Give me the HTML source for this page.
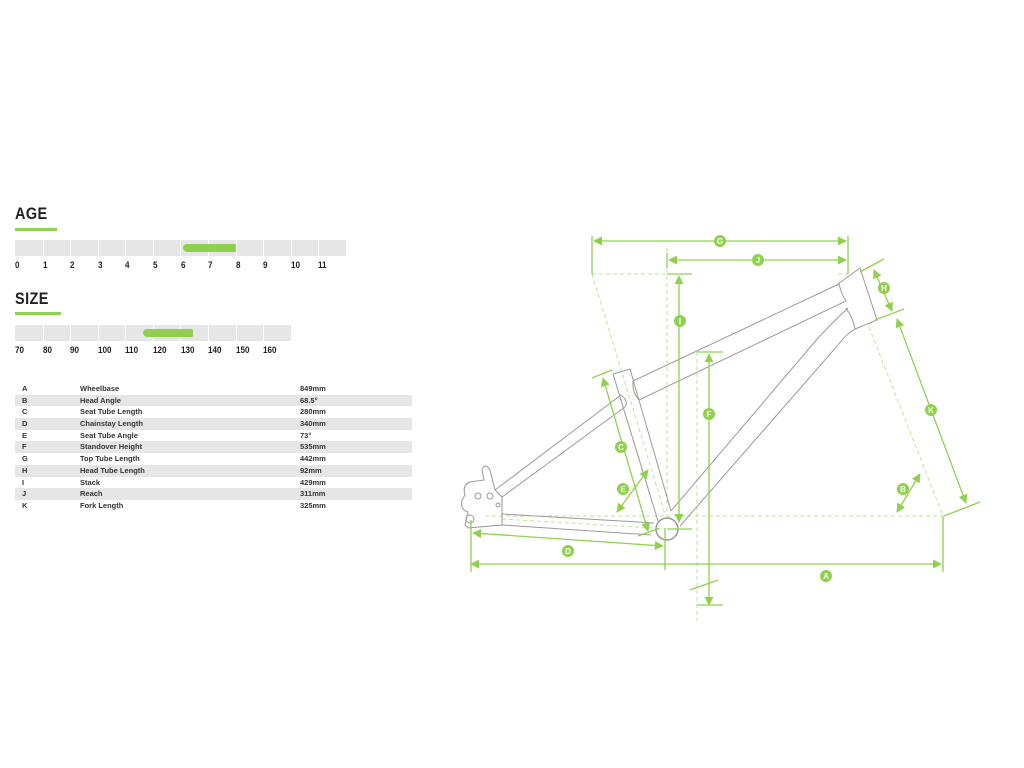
<!DOCTYPE html>
<html><head><meta charset="utf-8"><style>
body{margin:0;background:#fff;width:1024px;height:768px;overflow:hidden;position:relative;font-family:"Liberation Sans",sans-serif;color:#222}
.h{position:absolute;left:15px;font-size:17px;font-weight:bold;transform:scaleX(0.85);transform-origin:left;letter-spacing:0.5px}
.ul{position:absolute;left:15px;height:3px;background:#8fd14f}
.bar{position:absolute;left:15px;height:16px;background:#e6e6e6}
.bar i{position:absolute;top:0;width:1px;height:16px;background:#fff}
.lab{position:absolute;font-size:9px;font-weight:bold;transform:scaleX(0.9);transform-origin:left}
.tbl{position:absolute;left:15px;top:383px;width:397px}
.tbl div{height:11.7px;font-size:7.5px;font-weight:bold;position:relative;line-height:11.7px;color:#333}
.tbl div:nth-child(even){background:#e6e6e6}
.tbl span{position:absolute}
</style></head><body>
<div class="h" style="top:204px">AGE</div>
<div class="ul" style="top:228px;width:42px"></div>
<div class="bar" style="top:240px;width:331px">
<i style="left:27.6px"></i><i style="left:55px"></i><i style="left:83px"></i><i style="left:110px"></i><i style="left:138px"></i><i style="left:165px"></i><i style="left:193px"></i><i style="left:221px"></i><i style="left:248px"></i><i style="left:276px"></i><i style="left:303px"></i>
<div style="position:absolute;left:168px;top:4px;width:53px;height:8px;background:#8fd14f;border-radius:4px 2px 2px 5px"></div>
</div>
<div class="h" style="top:289px">SIZE</div>
<div class="ul" style="top:312px;width:46px"></div>
<div class="bar" style="top:325px;width:276px">
<i style="left:27.6px"></i><i style="left:55px"></i><i style="left:83px"></i><i style="left:110px"></i><i style="left:138px"></i><i style="left:165px"></i><i style="left:193px"></i><i style="left:221px"></i><i style="left:248px"></i>
<div style="position:absolute;left:128px;top:4px;width:50px;height:8px;background:#8fd14f;border-radius:4px 2px 2px 5px"></div>
</div>
<span class="lab" style="left:15px;top:260px">0</span><span class="lab" style="left:43px;top:260px">1</span><span class="lab" style="left:70px;top:260px">2</span><span class="lab" style="left:98px;top:260px">3</span><span class="lab" style="left:125px;top:260px">4</span><span class="lab" style="left:153px;top:260px">5</span><span class="lab" style="left:181px;top:260px">6</span><span class="lab" style="left:208px;top:260px">7</span><span class="lab" style="left:236px;top:260px">8</span><span class="lab" style="left:263px;top:260px">9</span><span class="lab" style="left:291px;top:260px">10</span><span class="lab" style="left:318px;top:260px">11</span>
<span class="lab" style="left:15px;top:345px">70</span><span class="lab" style="left:43px;top:345px">80</span><span class="lab" style="left:70px;top:345px">90</span><span class="lab" style="left:98px;top:345px">100</span><span class="lab" style="left:125px;top:345px">110</span><span class="lab" style="left:153px;top:345px">120</span><span class="lab" style="left:181px;top:345px">130</span><span class="lab" style="left:208px;top:345px">140</span><span class="lab" style="left:236px;top:345px">150</span><span class="lab" style="left:263px;top:345px">160</span>
<div class="tbl">
<div><span style="left:7px">A</span><span style="left:65px">Wheelbase</span><span style="left:285px">849mm</span></div>
<div><span style="left:7px">B</span><span style="left:65px">Head Angle</span><span style="left:285px">68.5°</span></div>
<div><span style="left:7px">C</span><span style="left:65px">Seat Tube Length</span><span style="left:285px">280mm</span></div>
<div><span style="left:7px">D</span><span style="left:65px">Chainstay Length</span><span style="left:285px">340mm</span></div>
<div><span style="left:7px">E</span><span style="left:65px">Seat Tube Angle</span><span style="left:285px">73°</span></div>
<div><span style="left:7px">F</span><span style="left:65px">Standover Height</span><span style="left:285px">535mm</span></div>
<div><span style="left:7px">G</span><span style="left:65px">Top Tube Length</span><span style="left:285px">442mm</span></div>
<div><span style="left:7px">H</span><span style="left:65px">Head Tube Length</span><span style="left:285px">92mm</span></div>
<div><span style="left:7px">I</span><span style="left:65px">Stack</span><span style="left:285px">429mm</span></div>
<div><span style="left:7px">J</span><span style="left:65px">Reach</span><span style="left:285px">311mm</span></div>
<div><span style="left:7px">K</span><span style="left:65px">Fork Length</span><span style="left:285px">325mm</span></div>
</div>
<svg width="1024" height="768" style="position:absolute;left:0;top:0">
<defs><marker id="a" viewBox="0 0 10 10" refX="9" refY="5" markerWidth="7" markerHeight="7" orient="auto-start-reverse"><path d="M0,0L10,5L0,10z" fill="#8fd14f"/></marker></defs>
<g stroke="#bfe39a" stroke-width="1" stroke-dasharray="4,3" fill="none">
<line x1="592" y1="274" x2="692" y2="274"/><line x1="838" y1="274" x2="848" y2="274"/>
<line x1="667" y1="248" x2="667" y2="524"/>
<line x1="485" y1="516" x2="943" y2="516"/>
<line x1="869" y1="327" x2="943" y2="516"/>
<line x1="592" y1="274" x2="665" y2="514"/>
<line x1="697" y1="352" x2="697" y2="621"/>
<line x1="502" y1="519" x2="654" y2="528"/>
</g>
<g stroke="#999" stroke-width="1" fill="none">
<path d="M838,284 L860,268 L877,320 L855,329 Q853,318 846,308"/>
<path d="M633,381 L839,284 Q842,296 846,301 L639,400 Q632,392 633,381"/>
<path d="M848,308 Q835,320 818,338 L671,511"/><path d="M855,329 Q845,335 838,345 L680,526"/>
<line x1="613" y1="374" x2="658" y2="521"/><line x1="630" y1="369" x2="671" y2="511"/><line x1="613" y1="374" x2="630" y2="369"/>
<path d="M621,395 L495,490"/><path d="M625,407 L502,497"/><path d="M621,395 Q629,401 625,407"/>
<line x1="502" y1="514" x2="654" y2="523"/><line x1="502" y1="525" x2="651" y2="535"/>
<path d="M495,490 L490,470 Q485,462 482,470 L484,480 L470,482 Q462,485 465,495 L462,500 Q460,510 468,512 L465,525 L468,528 L502,525 L502,497 Z"/>
<circle cx="470" cy="519" r="4"/><circle cx="478" cy="496" r="3"/><circle cx="490" cy="496" r="3"/><circle cx="498" cy="505" r="2"/>
</g>
<circle cx="667" cy="529" r="11" fill="#fff" stroke="#999" stroke-width="1.5"/>
<g stroke="#8fd14f" stroke-width="1.3" fill="none">
<line x1="592" y1="236" x2="592" y2="274"/><line x1="848" y1="236" x2="848" y2="274"/><line x1="667" y1="253" x2="667" y2="268"/>
<line x1="594" y1="241" x2="846" y2="241" marker-start="url(#a)" marker-end="url(#a)"/>
<line x1="669" y1="260" x2="846" y2="260" marker-start="url(#a)" marker-end="url(#a)"/>
<line x1="679" y1="276" x2="679" y2="522" marker-start="url(#a)" marker-end="url(#a)"/>
<line x1="667" y1="274" x2="692" y2="274"/><line x1="667" y1="529" x2="692" y2="529"/>
<line x1="709" y1="354" x2="709" y2="605" marker-start="url(#a)" marker-end="url(#a)"/>
<line x1="697" y1="352" x2="723" y2="352"/><line x1="697" y1="605" x2="723" y2="605"/>
<line x1="690" y1="590" x2="718" y2="580"/>
<line x1="471" y1="564" x2="941" y2="564" marker-start="url(#a)" marker-end="url(#a)"/>
<line x1="471" y1="520" x2="471" y2="572"/><line x1="943" y1="516" x2="943" y2="572"/>
<line x1="473" y1="533" x2="663" y2="546" marker-start="url(#a)" marker-end="url(#a)"/>
<line x1="665" y1="528" x2="665" y2="570"/>
<line x1="603" y1="378" x2="648" y2="531" marker-start="url(#a)" marker-end="url(#a)"/>
<line x1="592" y1="378" x2="612" y2="370"/><line x1="638" y1="536" x2="660" y2="528"/>
<line x1="617" y1="512" x2="648" y2="470" marker-start="url(#a)" marker-end="url(#a)"/>
<line x1="897" y1="512" x2="920" y2="474" marker-start="url(#a)" marker-end="url(#a)"/>
<line x1="874" y1="270" x2="892" y2="311" marker-start="url(#a)" marker-end="url(#a)"/>
<line x1="860" y1="272" x2="884" y2="259"/><line x1="875" y1="320" x2="904" y2="309"/>
<line x1="897" y1="319" x2="966" y2="503" marker-start="url(#a)" marker-end="url(#a)"/>
<line x1="944" y1="516" x2="980" y2="502"/>
</g>
<g fill="#8fd14f" font-size="8" font-weight="bold" text-anchor="middle" font-family="Liberation Sans,sans-serif">
<circle cx="720" cy="241" r="6"/><circle cx="758" cy="260" r="6"/><circle cx="884" cy="288" r="6"/><circle cx="680" cy="321" r="6"/><circle cx="709" cy="414" r="6"/><circle cx="931" cy="410" r="6"/><circle cx="621" cy="447" r="6"/><circle cx="623" cy="489" r="6"/><circle cx="903" cy="489" r="6"/><circle cx="568" cy="551" r="6"/><circle cx="826" cy="576" r="6"/>
<g fill="#fff"><text x="720" y="244">G</text><text x="758" y="263">J</text><text x="884" y="291">H</text><text x="680" y="324">I</text><text x="709" y="417">F</text><text x="931" y="413">K</text><text x="621" y="450">C</text><text x="623" y="492">E</text><text x="903" y="492">B</text><text x="568" y="554">D</text><text x="826" y="579">A</text></g>
</g>
</svg>
</body></html>
